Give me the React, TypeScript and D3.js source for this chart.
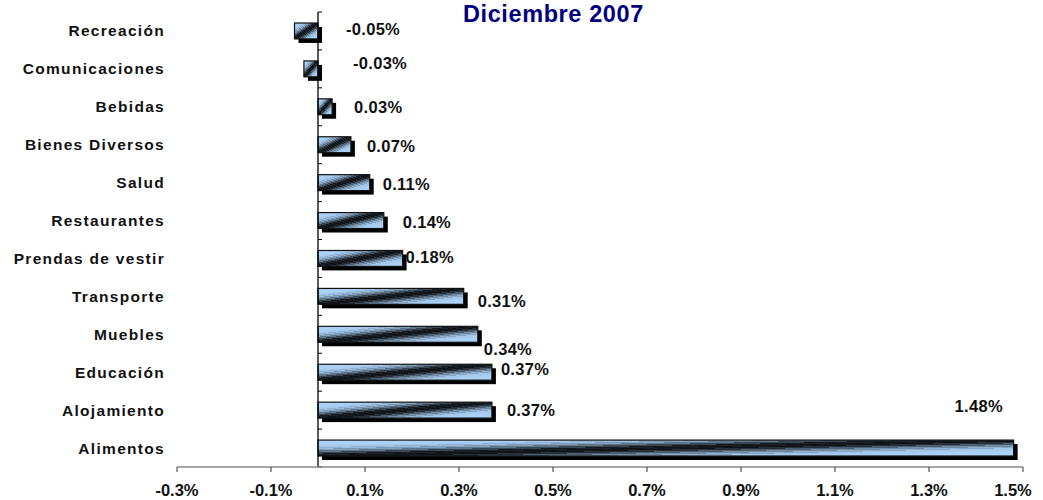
import * as d3 from "d3";

const categories = [
  "Recreación",
  "Comunicaciones",
  "Bebidas",
  "Bienes Diversos",
  "Salud",
  "Restaurantes",
  "Prendas de vestir",
  "Transporte",
  "Muebles",
  "Educación",
  "Alojamiento",
  "Alimentos",
];
const values = [-0.05, -0.03, 0.03, 0.07, 0.11, 0.14, 0.18, 0.31, 0.34, 0.37, 0.37, 1.48];
const xTicks = [-0.3, -0.1, 0.1, 0.3, 0.5, 0.7, 0.9, 1.1, 1.3, 1.5];
const title = "Diciembre 2007";
// the original's data labels were dragged by hand: px nudge from the bar end
const labelNudge: [number, number][] = [
  [28, -2], [35, -6], [22, 0], [16, 1], [13, 1], [19, 1],
  [3, -1], [14, 5], [6, 15], [9, -3], [15, 0], [-59, -42],
];

const W = 1043, H = 500;
const font = "'Liberation Sans', Arial, sans-serif";

// banded diagonal gradient like Excel's "diagonal up" two-colour fill
const light = "#acd2f7", dark = "#0e1216";
const nBands = 40;
const bandStops = d3.range(nBands).flatMap((k) => {
  const t = (k + 0.5) / nBands;
  const d = Math.exp(-(((t - 0.5) / 0.17) ** 2));
  const s = d > 0.08 ? (k % 2 ? 0.09 : -0.04) : 0;
  const col = d3.interpolateRgb(light, dark)(Math.max(0, Math.min(1, d + s)));
  return [
    { off: k / nBands, col },
    { off: (k + 1) / nBands, col },
  ];
});

export default function App() {
  const x = d3.scaleLinear().domain([-0.3, 1.5]).range([177, 1023]);
  const y = d3.scaleBand<string>().domain(categories).range([12, 467]).paddingInner(0.58).paddingOuter(0.29);
  const step = y.step();
  const x0 = x(0);
  const axisY = 467;
  const sh = 4; // drop shadow offset

  return (
    <svg width={W} height={H} style={{ position: "absolute", left: 0, top: 0 }} fontFamily={font}>
      <defs>
        <linearGradient id="barFill" x1="0" y1="0" x2="1" y2="1">
          {bandStops.map((s, i) => (
            <stop key={i} offset={s.off} stopColor={s.col} />
          ))}
        </linearGradient>
      </defs>
      <rect width={W} height={H} fill="#fff" />

      <text x={463} y={22} fill="#000080" fontSize={23.5} fontWeight="bold" letterSpacing={0.6}>
        {title}
      </text>

      {/* bars */}
      {categories.map((c, i) => {
        const v = values[i];
        const bx = Math.min(x(v), x0);
        const bw = Math.abs(x(v) - x0);
        const by = y(c)!;
        return (
          <g key={c}>
            <rect x={bx + sh} y={by + sh} width={bw} height={y.bandwidth()} fill="#000" />
            <rect x={bx} y={by} width={bw} height={y.bandwidth()} fill="url(#barFill)" stroke="#111" strokeWidth={1.2} />
          </g>
        );
      })}

      {/* vertical axis */}
      <line x1={x0} x2={x0} y1={12} y2={axisY} stroke="#000" strokeWidth={1.3} />
      {d3.range(categories.length + 1).map((i) => (
        <line key={i} x1={x0} x2={x0 + 4} y1={12 + i * step} y2={12 + i * step} stroke="#000" />
      ))}

      {/* horizontal axis */}
      <line x1={x(-0.3)} x2={x(1.5)} y1={axisY} y2={axisY} stroke="#888" strokeWidth={1.5} />
      {xTicks.map((t) => (
        <line key={t} x1={x(t)} x2={x(t)} y1={axisY} y2={axisY + 5} stroke="#333" />
      ))}
      {xTicks.map((t, i) => (
        <text
          key={t}
          x={i === xTicks.length - 1 ? x(t) - 10 : x(t)}
          y={496}
          textAnchor="middle"
          fontSize={16.5}
          fontWeight="bold"
          fill="#111"
        >
          {`${t.toFixed(1)}%`}
        </text>
      ))}

      {/* category labels */}
      {categories.map((c) => (
        <text
          key={c}
          x={165}
          y={y(c)! + y.bandwidth() / 2 + 5.5}
          textAnchor="end"
          fontSize={15.5}
          fontWeight="bold"
          letterSpacing={1.3}
          fill="#111"
        >
          {c}
        </text>
      ))}

      {/* value labels */}
      {categories.map((c, i) => {
        const v = values[i];
        const [dx, dy] = labelNudge[i];
        return (
          <text
            key={c}
            x={Math.max(x(v), x0) + dx}
            y={y(c)! + y.bandwidth() / 2 + 6 + dy}
            fontSize={16.5}
            fontWeight="bold"
            letterSpacing={0.3}
            fill="#111"
          >
            {`${v.toFixed(2)}%`}
          </text>
        );
      })}
    </svg>
  );
}
